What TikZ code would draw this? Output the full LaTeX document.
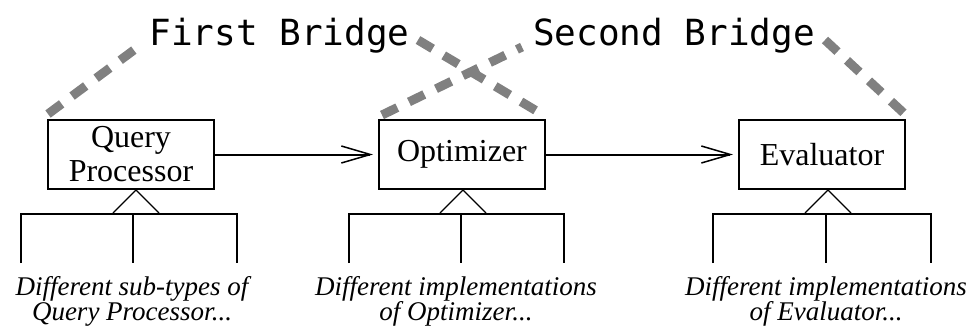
\documentclass[tikz,border=0pt]{standalone}
\usepackage{fontspec}
\setmainfont{Liberation Serif}
\newfontfamily\bridgefont{DejaVu Sans Mono}
\usetikzlibrary{arrows.meta}
\begin{document}
\begin{tikzpicture}[x=1pt,y=-1pt,
  component/.style={draw, line width=2pt, minimum width=166pt, minimum height=69pt,
    inner sep=0pt, align=center, font=\fontsize{32}{34}\selectfont},
  flow/.style={line width=2pt, -{Straight Barb[length=29pt,width=17pt,line width=1.5pt]},
    shorten >=5pt},
  bridgeline/.style={draw=gray, line width=9pt, dash pattern=on 17pt off 13pt},
  bridgelabel/.style={anchor=base, inner sep=0pt, font=\bridgefont\fontsize{36}{40}\selectfont},
  inherit/.style={line width=1.2pt},
  tree/.style={line width=2pt},
  note/.style={anchor=north, inner sep=0pt, align=center,
    font={\itshape\fontsize{27}{25.5}\selectfont\lineskiplimit=-20pt\relax}}
]
\useasboundingbox (0,0) rectangle (977,330);

% components
\node[component] (qp)  at (131,154.5) {Query\\Processor};
\node[component] (opt) at (462,154.5) {Optimizer};
\node[component] (ev)  at (822,154.5) {Evaluator};

% data flow
\draw[flow] (qp) -- (opt);
\draw[flow] (opt) -- (ev);

% bridge labels
\node[bridgelabel] (fb) at (279.5,45) {First Bridge};
\node[bridgelabel] (sb) at (674,45) {Second Bridge};

% bridge lines
\coordinate (fb-in)  at (138,47);
\coordinate (fb-out) at (418,40);
\coordinate (sb-in)  at (522,47);
\coordinate (sb-out) at (825,40);
\draw[bridgeline] ([shift={(1,-5)}]qp.north west) -- (fb-in);
\draw[bridgeline] (fb-out) -- ([shift={(-6,-6)}]opt.north east);
\draw[bridgeline] ([shift={(4,-4)}]opt.north west) -- (sb-in);
\draw[bridgeline] (sb-out) -- ([shift={(2,-2)}]ev.north east);

% inheritance symbols and subclass trees
\coordinate (qp-apex)  at (136,190);
\coordinate (opt-apex) at (463,190);
\coordinate (ev-apex)  at (828,190);
\foreach \n in {qp-apex,opt-apex,ev-apex}
  \draw[inherit] ([shift={(-23,23)}]\n) -- (\n) -- ([shift={(23,23)}]\n);

\draw[tree] (21,263) -- (21,214) -- (237,214) -- (237,263);
\draw[tree] (133,214) -- (133,263);
\draw[tree] (349,263) -- (349,214) -- (564,214) -- (564,263);
\draw[tree] (461,214) -- (461,263);
\draw[tree] (713,263) -- (713,214) -- (931,214) -- (931,263);
\draw[tree] (826,214) -- (826,263);

% notes
\node[note] (qp-note)  at (132,276) {Different sub-types of\\Query Processor...};
\node[note] (opt-note) at (456,276) {Different implementations\\of Optimizer...};
\node[note] (ev-note)  at (826,276) {Different implementations\\of Evaluator...};
\end{tikzpicture}
\end{document}
